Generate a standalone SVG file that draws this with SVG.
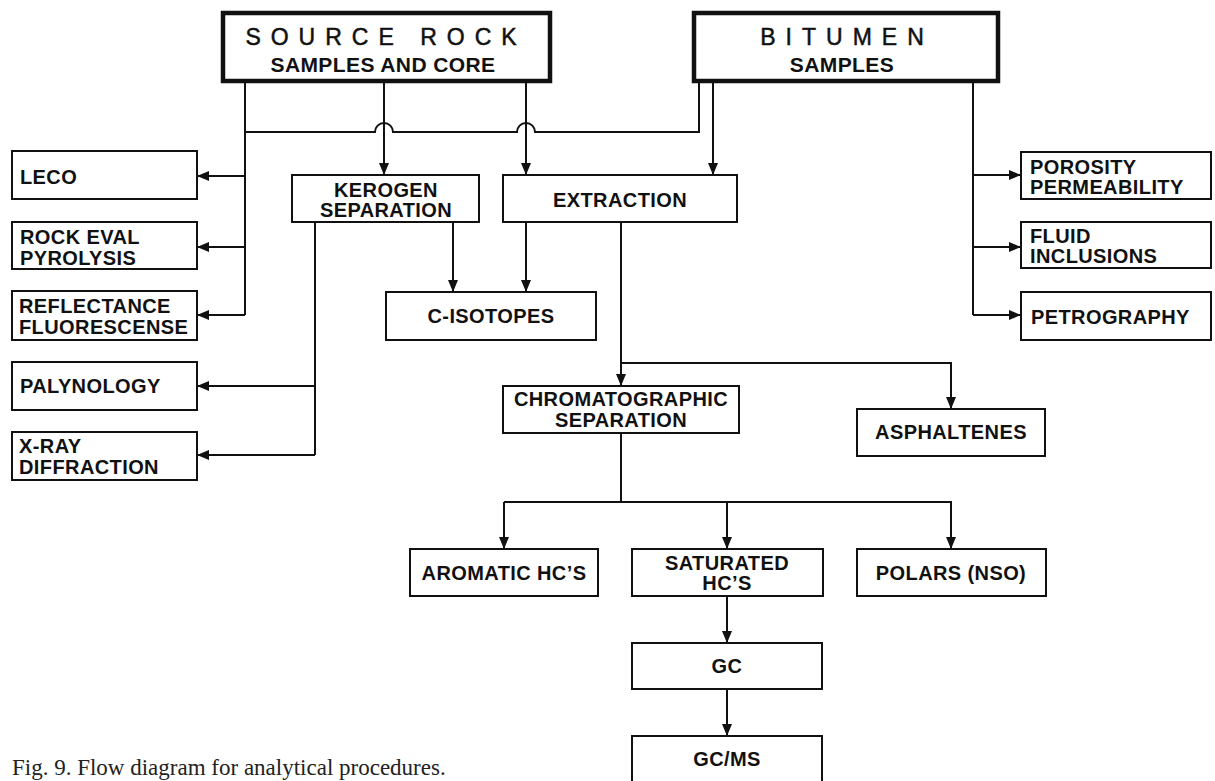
<svg xmlns="http://www.w3.org/2000/svg" width="1215" height="781" viewBox="0 0 1215 781">
<style>
.box{fill:#fff;stroke:#111;stroke-width:2}
.main{fill:#fff;stroke:#111;stroke-width:4.5}
.t{font-family:"Liberation Sans",Arial,sans-serif;font-weight:bold;font-size:20px;fill:#111;letter-spacing:0.4px}
.c{text-anchor:middle}
.title{font-family:"Liberation Sans",Arial,sans-serif;font-size:23px;fill:#111;stroke:#111;stroke-width:0.5;letter-spacing:10px;text-anchor:middle}
.sub{font-family:"Liberation Sans",Arial,sans-serif;font-weight:bold;font-size:21px;fill:#111;letter-spacing:0.4px;text-anchor:middle}
.ln{fill:none;stroke:#111;stroke-width:2}
.cap{font-family:"Liberation Serif","Times New Roman",serif;font-size:23px;fill:#222}
</style>
<defs>
<marker id="ah" viewBox="0 0 12 10" refX="12" refY="5" markerWidth="12" markerHeight="10" markerUnits="userSpaceOnUse" orient="auto">
<path d="M0,0 L12,5 L0,10 Z" fill="#111"/>
</marker>
</defs>

<g id="connectors" class="ln">
<path d="M245,82 V315"/>
<path d="M245,176 H197" marker-end="url(#ah)"/>
<path d="M245,247 H197" marker-end="url(#ah)"/>
<path d="M245,315 H197" marker-end="url(#ah)"/>
<path d="M699,82 V132 H535 A9,9 0 0 0 517,132 H393 A9,9 0 0 0 375,132 H245"/>
<path d="M384,82 V175" marker-end="url(#ah)"/>
<path d="M526,82 V175" marker-end="url(#ah)"/>
<path d="M713,82 V175" marker-end="url(#ah)"/>
<path d="M973,82 V315"/>
<path d="M973,175 H1021" marker-end="url(#ah)"/>
<path d="M973,247 H1021" marker-end="url(#ah)"/>
<path d="M973,315 H1021" marker-end="url(#ah)"/>
<path d="M315,222 V455"/>
<path d="M315,386 H197" marker-end="url(#ah)"/>
<path d="M315,455 H197" marker-end="url(#ah)"/>
<path d="M453,222 V292" marker-end="url(#ah)"/>
<path d="M526,222 V292" marker-end="url(#ah)"/>
<path d="M621,222 V386" marker-end="url(#ah)"/>
<path d="M621,363 H951 V409" marker-end="url(#ah)"/>
<path d="M621,433 V502"/>
<path d="M504,502 H951 V549" marker-end="url(#ah)"/>
<path d="M504,502 V549" marker-end="url(#ah)"/>
<path d="M727,502 V549" marker-end="url(#ah)"/>
<path d="M727,596 V643" marker-end="url(#ah)"/>
<path d="M727,689 V736" marker-end="url(#ah)"/>
</g>

<g id="source-rock">
<rect class="main" x="223" y="13" width="327" height="68"/>
<text class="title" x="386" y="45">SOURCE ROCK</text>
<text class="sub" x="383" y="72">SAMPLES AND CORE</text>
</g>
<g id="bitumen">
<rect class="main" x="694" y="13" width="304" height="68"/>
<text class="title" x="847" y="45">BITUMEN</text>
<text class="sub" x="842" y="72">SAMPLES</text>
</g>

<g id="leco"><rect class="box" x="12" y="151" width="185" height="48"/><text class="t" x="20" y="184">LECO</text></g>
<g id="rock-eval"><rect class="box" x="12" y="222" width="185" height="47"/><text class="t" x="20" y="244">ROCK EVAL</text><text class="t" x="20" y="265">PYROLYSIS</text></g>
<g id="reflectance"><rect class="box" x="12" y="291" width="185" height="49"/><text class="t" x="19" y="313">REFLECTANCE</text><text class="t" x="19" y="334">FLUORESCENSE</text></g>
<g id="palynology"><rect class="box" x="12" y="362" width="185" height="48"/><text class="t" x="20" y="393">PALYNOLOGY</text></g>
<g id="xray"><rect class="box" x="12" y="432" width="185" height="48"/><text class="t" x="19" y="453">X-RAY</text><text class="t" x="19" y="474">DIFFRACTION</text></g>

<g id="kerogen"><rect class="box" x="292" y="175" width="187" height="47"/><text class="t c" x="386" y="197">KEROGEN</text><text class="t c" x="386" y="217">SEPARATION</text></g>
<g id="extraction"><rect class="box" x="503" y="175" width="234" height="47"/><text class="t c" x="620" y="207">EXTRACTION</text></g>
<g id="c-isotopes"><rect class="box" x="386" y="292" width="210" height="48"/><text class="t c" x="491" y="323">C-ISOTOPES</text></g>

<g id="porosity"><rect class="box" x="1021" y="152" width="190" height="47"/><text class="t" x="1030" y="174">POROSITY</text><text class="t" x="1030" y="194">PERMEABILITY</text></g>
<g id="fluid"><rect class="box" x="1021" y="222" width="190" height="46"/><text class="t" x="1030" y="243">FLUID</text><text class="t" x="1030" y="263">INCLUSIONS</text></g>
<g id="petrography"><rect class="box" x="1021" y="292" width="190" height="48"/><text class="t" x="1031" y="324">PETROGRAPHY</text></g>

<g id="chromatographic"><rect class="box" x="503" y="386" width="236" height="47"/><text class="t c" x="621" y="406">CHROMATOGRAPHIC</text><text class="t c" x="621" y="427">SEPARATION</text></g>
<g id="asphaltenes"><rect class="box" x="857" y="409" width="188" height="47"/><text class="t c" x="951" y="439">ASPHALTENES</text></g>

<g id="aromatic"><rect class="box" x="410" y="549" width="188" height="47"/><text class="t c" x="504" y="580">AROMATIC HC’S</text></g>
<g id="saturated"><rect class="box" x="632" y="549" width="191" height="47"/><text class="t c" x="727" y="570">SATURATED</text><text class="t c" x="727" y="590">HC’S</text></g>
<g id="polars"><rect class="box" x="857" y="549" width="189" height="47"/><text class="t c" x="951" y="580">POLARS (NSO)</text></g>
<g id="gc"><rect class="box" x="632" y="643" width="190" height="46"/><text class="t c" x="727" y="673">GC</text></g>
<g id="gcms"><rect class="box" x="632" y="736" width="190" height="46"/><text class="t c" x="727" y="766">GC/MS</text></g>

<text class="cap" x="12" y="775">Fig. 9. Flow diagram for analytical procedures.</text>
</svg>
